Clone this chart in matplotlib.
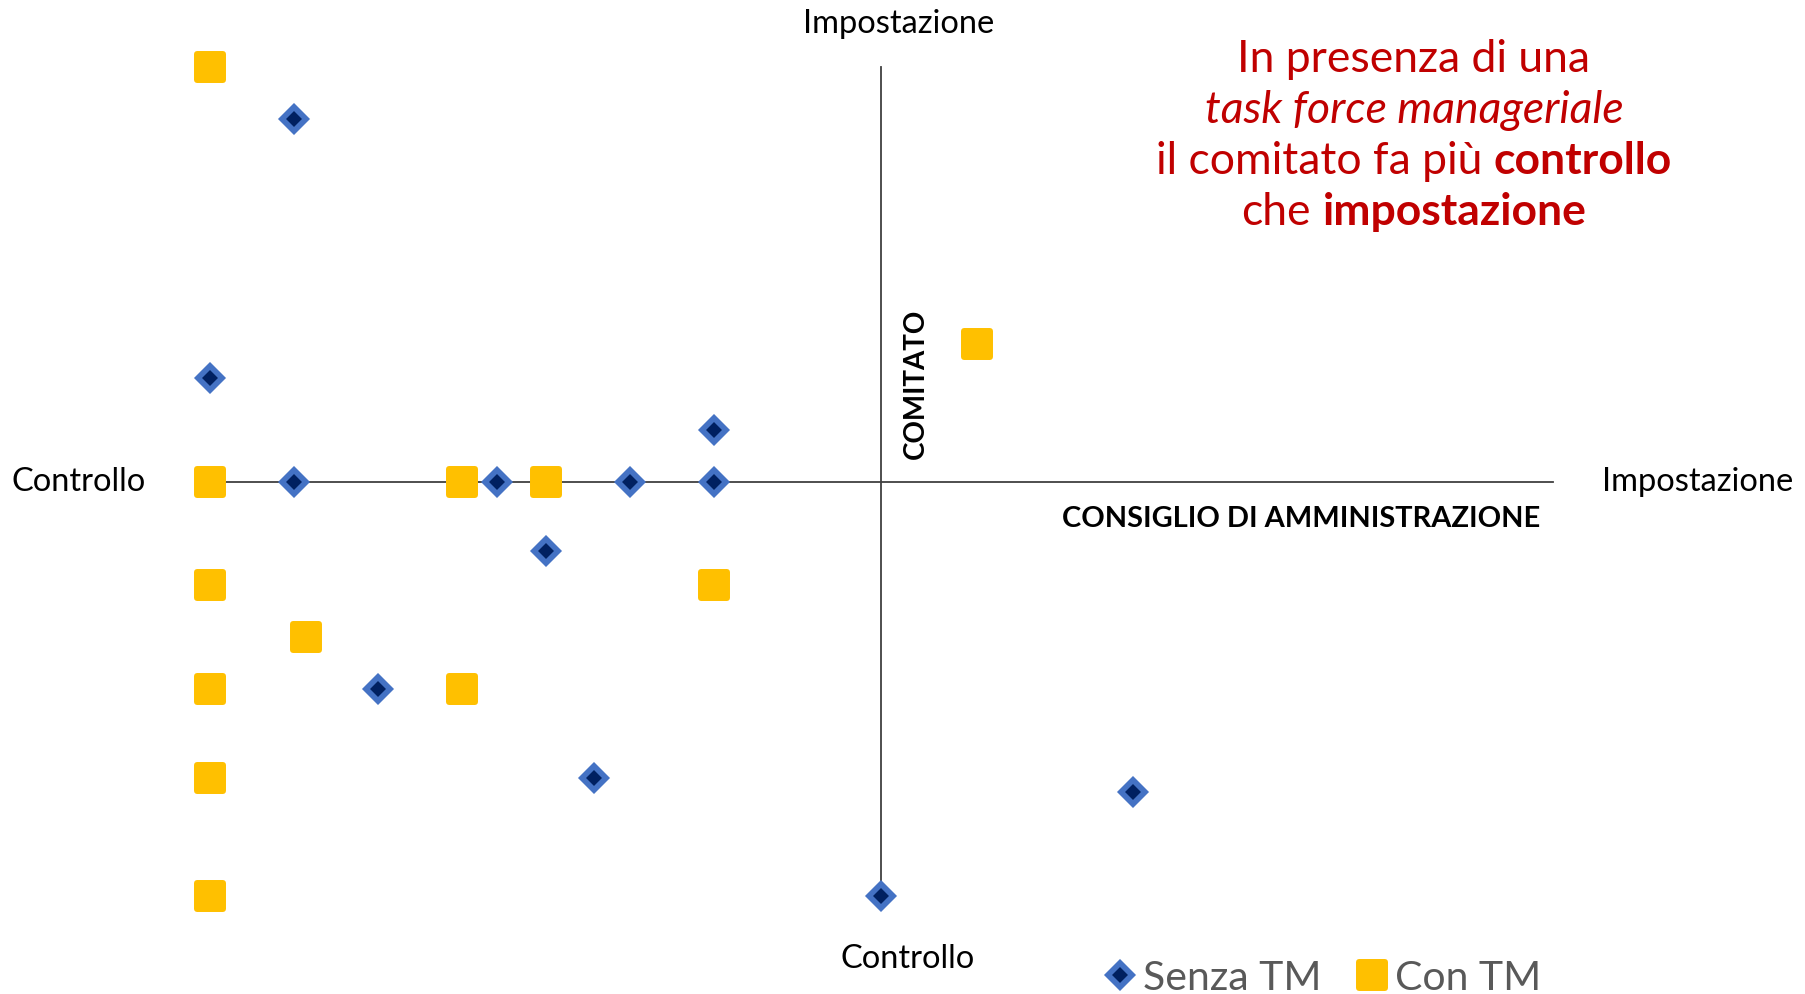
import matplotlib
matplotlib.use("Agg")
import matplotlib.pyplot as plt
from matplotlib.markers import MarkerStyle

plt.rcParams['font.family'] = ['Lato', 'DejaVu Sans']

# ---- data: position of each company on the two axes (CdA: x, Comitato: y)
senza_tm_x = [-3.5, -4, -3.5, -2.29, -1.5, -1, -1, -2, -3, -1.71, 1.5, 0]
senza_tm_y = [3.5, 1, 0, 0, 0, 0, 0.5, -0.67, -2, -2.86, -3, -4]
con_tm_x = [-4, -4, -4, -4, -4, -4, -3.43, -2.5, -2.5, -2, -1, 0.57]
con_tm_y = [4, 0, -1, -2, -2.86, -4, -1.5, 0, -2, 0, -1, 1.33]
series_labels = ["Senza TM", "Con TM"]
axis_min, axis_max = -4, 4

# ---- styling
W, H = 1806, 995
GOLD = "#FFC000"
BLUE = "#4472C4"
NAVY = "#002060"
AXIS = "#404040"
RED = "#C00000"
GREY = "#595959"

fig = plt.figure(figsize=(W / 100, H / 100), dpi=100)
ax = fig.add_axes([210 / W, 1 - 897 / H, (1553 - 210) / W, (897 - 68) / H])
ax.set_xlim(axis_min, axis_max)
ax.set_ylim(axis_min, axis_max)
ax.axis("off")

# quadrant axes
ax.plot([axis_min, axis_max], [0, 0], color=AXIS, lw=1.3, zorder=1, clip_on=False)
ax.plot([0, 0], [axis_min, axis_max], color=AXIS, lw=1.3, zorder=1, clip_on=False)

sq_marker = MarkerStyle("s", joinstyle="round")
h_con, = ax.plot(con_tm_x, con_tm_y, ls="none", marker=sq_marker, ms=18.7,
                 mfc=GOLD, mec=GOLD, mew=4.3, clip_on=False, zorder=3)
h_senza, = ax.plot(senza_tm_x, senza_tm_y, ls="none", marker="D", ms=12.2,
                   mfc=NAVY, mec=BLUE, mew=4.1, clip_on=False, zorder=4)


def fx(px):
    return px / W


def fy(py):
    return 1 - py / H


# axis end labels
lab_size = 23.5
fig.text(fx(899), fy(33), "Impostazione", ha="center", va="baseline", fontsize=lab_size)
fig.text(fx(908), fy(968), "Controllo", ha="center", va="baseline", fontsize=lab_size)
fig.text(fx(12), fy(491), "Controllo", ha="left", va="baseline", fontsize=lab_size)
fig.text(fx(1602), fy(491), "Impostazione", ha="left", va="baseline", fontsize=lab_size)

# axis titles
fig.text(fx(916), fy(384), "COMITATO", rotation=90, ha="center", va="center",
         fontsize=20, fontweight="bold")
fig.text(fx(1540), fy(527), "CONSIGLIO DI AMMINISTRAZIONE", ha="right", va="baseline",
         fontsize=20.9, fontweight="bold")

# annotation with mixed styles, centred line by line
note_size = 32
note_lines = [
    (72, [("In presenza di una", {})]),
    (123, [("task force manageriale", {"style": "italic"})]),
    (174, [("il comitato fa più", {}), ("controllo", {"fontweight": "bold"})]),
    (225, [("che", {}), ("impostazione", {"fontweight": "bold"})]),
]
note_cx = 1414

renderer = fig.canvas.get_renderer()
probe_a = fig.text(0, 0, "n n", fontsize=note_size)
probe_b = fig.text(0, 0, "nn", fontsize=note_size)
space_w = (probe_a.get_window_extent(renderer).width
           - probe_b.get_window_extent(renderer).width)
probe_a.remove()
probe_b.remove()

for base_y, parts in note_lines:
    pieces = []
    for txt, kw in parts:
        t = fig.text(0, fy(base_y), txt, ha="left", va="baseline",
                     fontsize=note_size, color=RED, **kw)
        pieces.append(t)
    widths = [t.get_window_extent(renderer).width for t in pieces]
    total = sum(widths) + space_w * (len(pieces) - 1)
    x = note_cx - total / 2
    for t, w in zip(pieces, widths):
        t.set_x(fx(x))
        x += w + space_w

# legend
fig.legend(handles=[h_senza, h_con], labels=series_labels, ncol=2, frameon=False,
           loc="center", bbox_to_anchor=(fx(1322), fy(979)), fontsize=29.5,
           labelcolor=GREY, handlelength=0.85, handletextpad=0.15,
           columnspacing=0.8, borderpad=0, borderaxespad=0)

fig.savefig("out.png", dpi=100)
